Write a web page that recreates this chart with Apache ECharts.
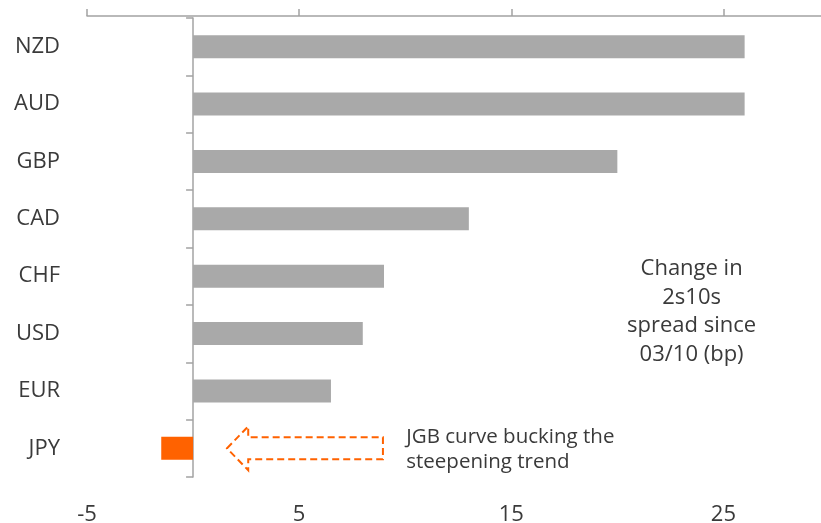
<!DOCTYPE html>
<html>
<head>
<meta charset="utf-8">
<script src="https://cdn.jsdelivr.net/npm/echarts@6/dist/echarts.min.js"></script>
<style>
html,body{margin:0;padding:0;background:#fff;}
#chart{width:821px;height:523px;}
</style>
</head>
<body>
<div id="chart"></div>
<script>
const categories = ['NZD', 'AUD', 'GBP', 'CAD', 'CHF', 'USD', 'EUR', 'JPY'];
const values = [26, 26, 20, 13, 9, 8, 6.5, -1.5];
const highlight = 'JPY';
const xTicks = [-5, 5, 15, 25];
const noteText = 'Change in\n2s10s\nspread since\n03/10 (bp)';
const arrowText = 'JGB curve bucking the\nsteepening trend';

const FONT = '"Open Sans", "Noto Sans", sans-serif';
const GREY = '#a9a9a9';
const ORANGE = '#ff6200';
const AXIS = '#a3a3a3';
const TEXT = '#3a3a3a';

const chart = echarts.init(document.getElementById('chart'), null, {renderer: 'canvas'});

const xCommon = {type: 'value', min: -5, max: 29.6, interval: 10, splitLine: {show: false}};

chart.setOption({
  animation: false,
  grid: {left: 87, right: 0, top: 18, bottom: 46, containLabel: false, outerBoundsMode: 'none'},
  xAxis: [
    Object.assign({}, xCommon, {
      position: 'top',
      offset: 2,
      axisLine: {show: true, onZero: false, lineStyle: {color: AXIS, width: 1.5}},
      axisTick: {show: true, length: 7, customValues: xTicks, lineStyle: {color: AXIS, width: 1.5}},
      axisLabel: {show: false}
    }),
    Object.assign({}, xCommon, {
      position: 'bottom',
      axisLine: {show: false},
      axisTick: {show: false},
      axisLabel: {show: true, customValues: xTicks, margin: 27, fontSize: 22, color: TEXT, fontFamily: FONT}
    })
  ],
  yAxis: {
    type: 'category',
    data: categories,
    inverse: true,
    axisLine: {show: true, onZero: true, onZeroAxisIndex: 0, lineStyle: {color: AXIS, width: 1.5}},
    axisTick: {show: true, length: 7, lineStyle: {color: AXIS, width: 1.5}},
    axisLabel: {margin: 27, fontSize: 22, color: TEXT, fontFamily: FONT}
  },
  series: [{
    type: 'bar',
    xAxisIndex: 0,
    barWidth: 23,
    data: values.map((v, i) => ({
      value: v,
      itemStyle: {color: categories[i] === highlight ? ORANGE : GREY}
    }))
  }]
});

function drawGraphics() {
  const idx = categories.indexOf(highlight);
  const p = (x) => chart.convertToPixel({xAxisIndex: 0, yAxisIndex: 0}, [x, categories[idx]]);
  const tip = p(1.6), head = p(2.6), tail = p(8.95);
  const cy = tip[1];
  const sh = 11, hh = 22;
  const pts = [
    [tip[0], cy],
    [head[0], cy - hh],
    [head[0], cy - sh],
    [tail[0], cy - sh],
    [tail[0], cy + sh],
    [head[0], cy + sh],
    [head[0], cy + hh]
  ];
  const note = chart.convertToPixel({xAxisIndex: 0, yAxisIndex: 0}, [23.5, categories[4]]);
  const noteY = (chart.convertToPixel({xAxisIndex: 0, yAxisIndex: 0}, [0, categories[4]])[1] +
                 chart.convertToPixel({xAxisIndex: 0, yAxisIndex: 0}, [0, categories[5]])[1]) / 2;
  const txt = p(10.05);
  chart.setOption({
    graphic: [
      {
        type: 'polygon',
        shape: {points: pts},
        style: {fill: 'none', stroke: ORANGE, lineWidth: 2, lineDash: [7, 4]}
      },
      {
        type: 'text',
        x: txt[0], y: cy + 1,
        style: {text: arrowText, font: '20.5px ' + FONT, fill: TEXT, align: 'left', verticalAlign: 'middle', lineHeight: 25}
      },
      {
        type: 'text',
        x: note[0], y: noteY + 7,
        style: {text: noteText, font: '22px ' + FONT, fill: TEXT, align: 'center', verticalAlign: 'middle', lineHeight: 28.7}
      }
    ]
  });
}
drawGraphics();
</script>
</body>
</html>
